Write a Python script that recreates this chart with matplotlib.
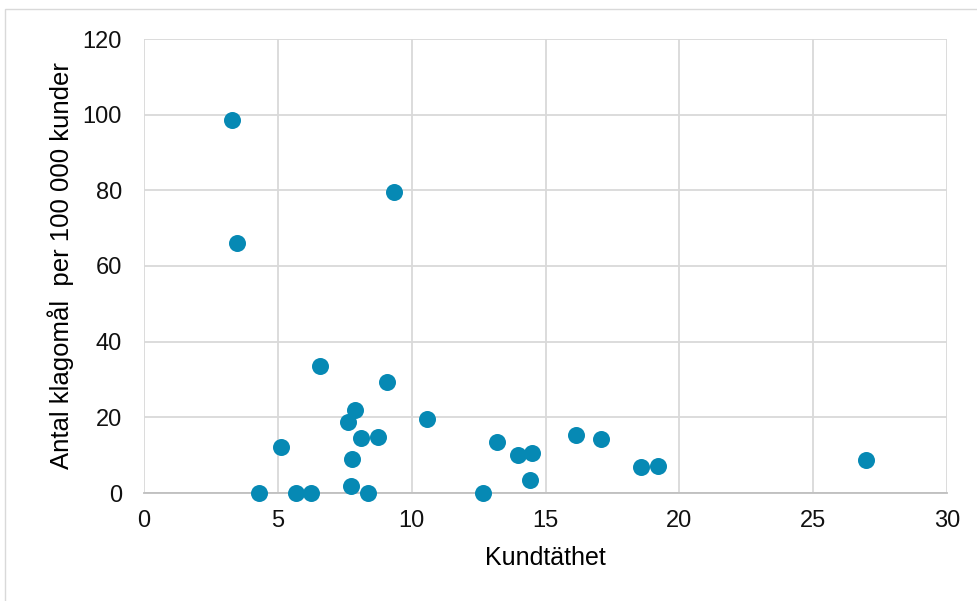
import matplotlib
matplotlib.use('Agg')
from matplotlib import pyplot as plt
from matplotlib.patches import Rectangle

plt.rcParams['font.family'] = ['Liberation Sans', 'DejaVu Sans']

# Kundtäthet vs antal klagomål per 100 000 kunder
kundtathet = [3.29, 3.47, 9.34, 6.57, 9.08, 10.57, 7.88, 7.62, 8.11, 8.74,
              5.12, 7.77, 7.73, 8.37, 4.30, 5.68, 6.24, 12.66, 13.19, 13.97,
              14.49, 14.42, 16.14, 17.07, 18.57, 19.20, 26.97]
klagomal = [98.6, 66.1, 79.6, 33.6, 29.3, 19.6, 21.9, 18.8, 14.5, 14.8,
            12.2, 9.0, 1.85, 0.0, 0.0, 0.0, 0.0, 0.0, 13.5, 10.0,
            10.6, 3.4, 15.3, 14.3, 6.9, 7.1, 8.7]

xticks = [0, 5, 10, 15, 20, 25, 30]
yticks = [0, 20, 40, 60, 80, 100, 120]

fig = plt.figure(figsize=(9.78, 6.01), dpi=100)
ax = fig.add_axes([144/978, 1-493/601, (947-144)/978, (493-39)/601])

ax.scatter(kundtathet, klagomal, s=150, color='#0689B4', zorder=3,
           clip_on=False, linewidths=0)

ax.set_xlim(0, 30)
ax.set_ylim(0, 120)
ax.set_xticks(xticks)
ax.set_yticks(yticks)
ax.grid(True, color='#D9D9D9', linewidth=1.3, zorder=0)
ax.set_axisbelow(True)
for s in ['top', 'right', 'left']:
    ax.spines[s].set_visible(False)
ax.spines['bottom'].set_color('#BFBFBF')
ax.spines['bottom'].set_linewidth(1.3)
ax.tick_params(axis='both', length=0, labelsize=17, colors='#111111')
ax.tick_params(axis='x', pad=12)
ax.tick_params(axis='y', pad=16)

ax.set_xlabel('Kundtäthet', fontsize=18, labelpad=10)
ax.set_ylabel('Antal klagomål  per 100 000 kunder', fontsize=18.5, labelpad=6)

# ram runt diagramytan
fig.patches.append(Rectangle((5/978, -0.05), 1.1, 1-9/601+0.05,
                             transform=fig.transFigure, fill=False,
                             edgecolor='#D9D9D9', linewidth=1.0))

plt.savefig('out.png', dpi=100)
plt.close()
